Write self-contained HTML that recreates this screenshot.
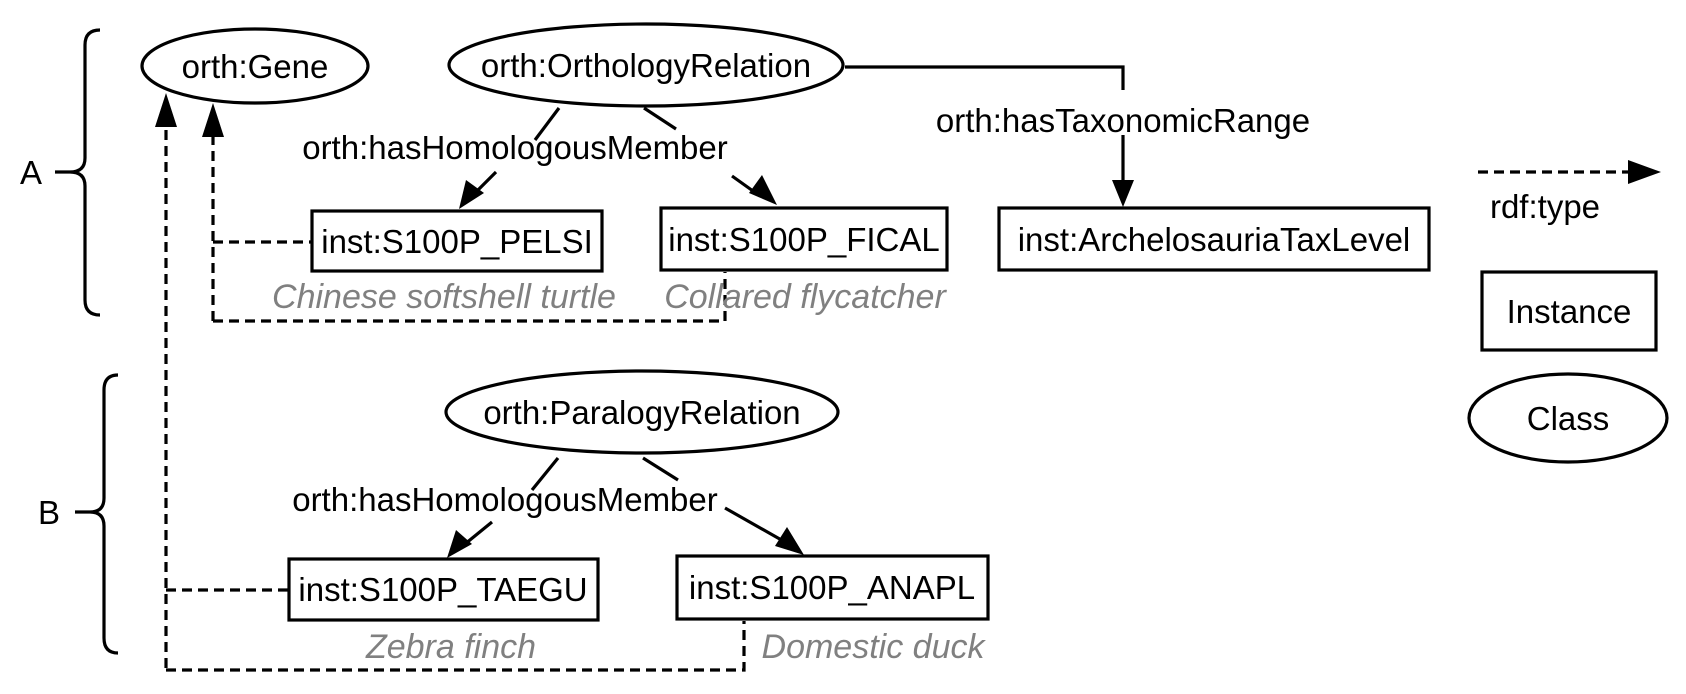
<!DOCTYPE html>
<html><head><style>html,body{margin:0;padding:0;background:#fff;}svg{display:block}</style></head>
<body>
<svg width="1686" height="694" viewBox="0 0 1686 694" xmlns="http://www.w3.org/2000/svg" font-family="Liberation Sans, sans-serif" font-size="33">
<g fill="none" stroke="#000" stroke-width="3.2">
<path d="M100,30 Q85,30 85,45 L85,158 Q85,172 70,172 L55,172 M70,172 Q85,172 85,186 L85,300 Q85,315 100,315"/>
<path d="M118,375 Q104,375 104,390 L104,498 Q104,512 90,512 L75,512 M90,512 Q104,512 104,526 L104,638 Q104,653 118,653"/>
<ellipse cx="255" cy="66" rx="113" ry="37"/>
<ellipse cx="646" cy="65" rx="197" ry="41"/>
<ellipse cx="642" cy="412" rx="196" ry="41"/>
<ellipse cx="1568" cy="418" rx="99" ry="44"/>
<rect x="312" y="211" width="290" height="60"/>
<rect x="661" y="208" width="286" height="62"/>
<rect x="999" y="208" width="430" height="62"/>
<rect x="1482" y="272" width="174" height="78"/>
<rect x="289" y="559" width="309" height="61"/>
<rect x="677" y="556" width="311" height="63"/>
<path d="M845,67 L1123,67 L1123,90"/>
<path d="M1123,135 L1123,190"/>
<path d="M559,108 L535,140"/>
<path d="M644,108 L676,129"/>
<path d="M558,458 L532,490"/>
<path d="M643,458 L678,480"/>
<g stroke-dasharray="10,6">
<path d="M166,668 L166,120"/>
<path d="M213,321 L213,130"/>
<path d="M213,242 L311,242"/>
<path d="M213,321 L725,321 L725,272"/>
<path d="M166,590 L288,590"/>
<path d="M166,670 L744,670 L744,621"/>
<path d="M1478,172 L1630,172"/>
</g>
</g>
<g fill="#000">
<path d="M1123,207 L1112,180 L1134,180 z"/>
<path d="M459,209 L466,180 L484,193 z"/>
<path d="M777,205 L749,193 L762,175 z"/>
<path d="M447,558 L456,530 L472,544 z"/>
<path d="M804,555 L775,546 L787,527 z"/>
<path d="M166,93 L155,127 L177,127 z"/>
<path d="M213,103 L202,137 L224,137 z"/>
<path d="M1661,172 L1628,160 L1628,184 z"/>
</g>
<g stroke="#000" stroke-width="3.2">
<path d="M496,172 L470,198"/>
<path d="M732,176 L760,196"/>
<path d="M492,522 L465,544"/>
<path d="M725,508 L785,542"/>
</g>
<g fill="#000" text-anchor="middle">
<text x="31" y="184">A</text>
<text x="49" y="524">B</text>
<text x="255" y="78">orth:Gene</text>
<text x="646" y="77">orth:OrthologyRelation</text>
<text x="642" y="424">orth:ParalogyRelation</text>
<text x="1123" y="132">orth:hasTaxonomicRange</text>
<text x="515" y="159">orth:hasHomologousMember</text>
<text x="505" y="511">orth:hasHomologousMember</text>
<text x="457" y="253">inst:S100P_PELSI</text>
<text x="804" y="251">inst:S100P_FICAL</text>
<text x="1214" y="251">inst:ArchelosauriaTaxLevel</text>
<text x="443" y="601">inst:S100P_TAEGU</text>
<text x="832" y="599">inst:S100P_ANAPL</text>
<text x="1569" y="323">Instance</text>
<text x="1568" y="430">Class</text>
<text x="1545" y="218">rdf:type</text>
</g>
<g fill="#808080" font-style="italic" text-anchor="middle" font-size="34">
<text x="444" y="308">Chinese softshell turtle</text>
<text x="805" y="308">Collared flycatcher</text>
<text x="451" y="658">Zebra finch</text>
<text x="873" y="658">Domestic duck</text>
</g>
</svg>
</body></html>
